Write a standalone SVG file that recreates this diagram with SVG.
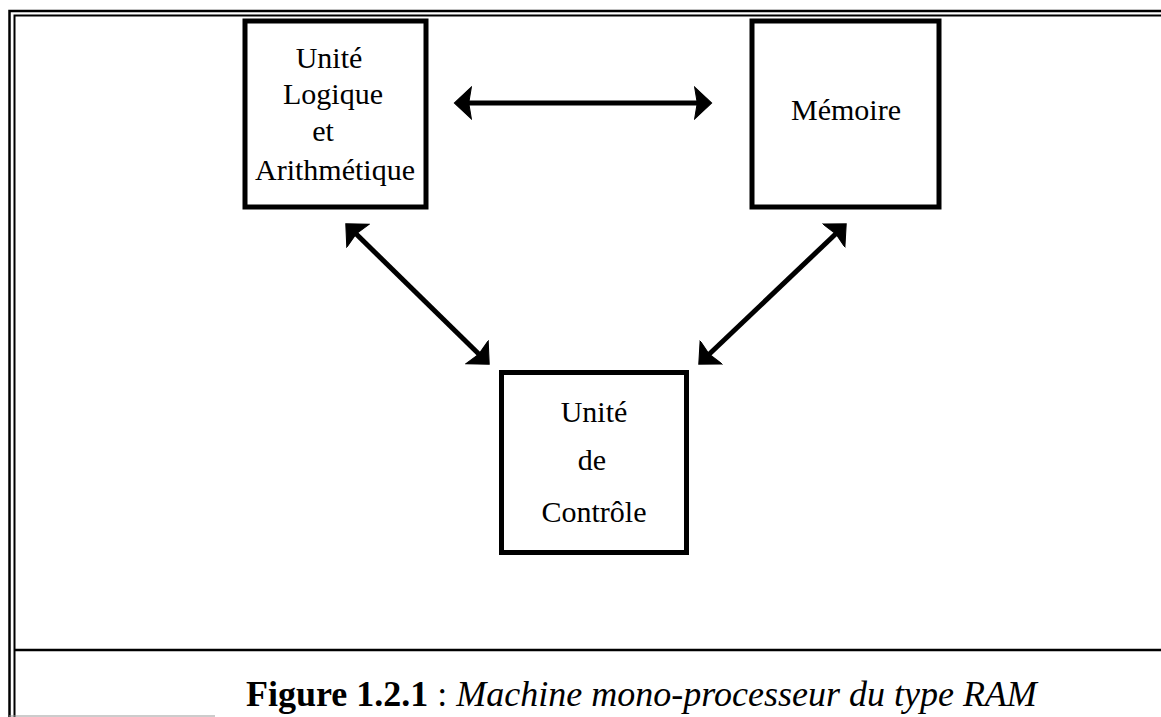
<svg xmlns="http://www.w3.org/2000/svg" width="1161" height="717" viewBox="0 0 1161 717">
<style>
.frame{fill:none;stroke:#000}
.box{fill:#fff;stroke:#000;stroke-width:5}
.lbl{font-family:"Liberation Serif","Times New Roman",serif;font-size:30px;fill:#000;text-anchor:middle}
.cap{font-family:"Liberation Serif","Times New Roman",serif;font-size:36px;fill:#000}
.conn{fill:none;stroke:#000;stroke-width:5}
</style>
<defs>
<marker id="ah" markerUnits="userSpaceOnUse" markerWidth="20" markerHeight="34" viewBox="0 -16 18 32" refX="6" refY="0" orient="auto-start-reverse">
<path d="M0,-15 L16,0 L0,15 L2.5,0 Z" fill="#000" stroke="#000" stroke-width="1" stroke-linejoin="miter"/>
</marker>
</defs>
<rect width="1161" height="717" fill="#fff"/>
<g id="frame">
<path class="frame" stroke-width="2.5" d="M9.5,717 V11 H1161"/>
<path class="frame" stroke-width="2" d="M14.5,717 V15.5 H1161"/>
<path class="frame" stroke-width="2.5" d="M15,650 H1161"/>
<path fill="none" stroke="#999" stroke-width="1" d="M9,716 H215"/>
</g>
<g id="connectors">
<path class="conn" d="M465,103 H701" marker-start="url(#ah)" marker-end="url(#ah)"/>
<path class="conn" d="M353.4,231.3 L481.6,356.7" marker-start="url(#ah)" marker-end="url(#ah)"/>
<path class="conn" d="M838.5,231.2 L706.5,356.8" marker-start="url(#ah)" marker-end="url(#ah)"/>
</g>
<g id="alu">
<rect class="box" x="245" y="21" width="181" height="186"/>
<text class="lbl" x="329" y="68">Unité</text>
<text class="lbl" x="333" y="104">Logique</text>
<text class="lbl" x="323" y="141">et</text>
<text class="lbl" x="335" y="180">Arithmétique</text>
</g>
<g id="memoire">
<rect class="box" x="752" y="21" width="187" height="186"/>
<text class="lbl" x="846" y="120">Mémoire</text>
</g>
<g id="controle">
<rect class="box" x="501.5" y="372.5" width="185" height="180"/>
<text class="lbl" x="594" y="422">Unité</text>
<text class="lbl" x="592" y="470">de</text>
<text class="lbl" x="594" y="522">Contrôle</text>
</g>
<g id="caption">
<text class="cap" x="246" y="706"><tspan font-weight="bold">Figure 1.2.1</tspan> : <tspan font-style="italic">Machine mono-processeur du type RAM</tspan></text>
</g>
</svg>
